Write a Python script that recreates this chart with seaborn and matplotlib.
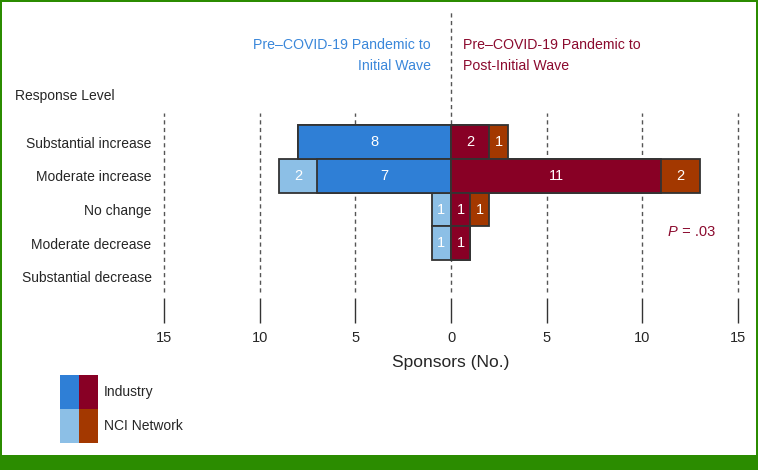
import matplotlib
matplotlib.use("Agg")
import matplotlib.pyplot as plt
from matplotlib.patches import Rectangle
import seaborn as sns
import pandas as pd
import numpy as np

# ---- data ----
levels = ["Substantial increase", "Moderate increase", "No change",
          "Moderate decrease", "Substantial decrease"]
initial_industry = [8, 7, 0, 0, 0]
initial_nci = [0, 2, 1, 1, 0]
post_industry = [2, 11, 1, 1, 0]
post_nci = [1, 2, 1, 0, 0]
tick_values = [-15, -10, -5, 0, 5, 10, 15]
tick_labels = ["15", "10", "5", "0", "5", "10", "15"]

C_IND_L = "#2F7FD6"
C_NCI_L = "#8CBFE6"
C_IND_R = "#880025"
C_NCI_R = "#A33800"
EDGE = "#333333"
GREEN = "#2B8C00"

sns.set_theme(style="white")
plt.rcParams["font.family"] = ["Liberation Sans", "DejaVu Sans"]

W, H = 758, 470
fig = plt.figure(figsize=(W / 100, H / 100), dpi=100)
ax_left, ax_right, ax_top, ax_bottom = 164, 738, 12, 298
ax = fig.add_axes([ax_left / W, 1 - ax_bottom / H,
                   (ax_right - ax_left) / W, (ax_bottom - ax_top) / H])

df = pd.DataFrame({
    "level": levels,
    "li": [-v for v in initial_industry],
    "ln": [-v for v in initial_nci],
    "ri": post_industry,
    "rn": post_nci,
})
df["lt"] = df["li"] + df["ln"]
df["rt"] = df["ri"] + df["rn"]


def draw(col, color):
    sub = df[df[col] != 0]
    sns.barplot(data=sub, x=col, y="level", order=levels, orient="h",
                color=color, saturation=1, width=1.0, edgecolor=EDGE,
                linewidth=1.3, ax=ax, errorbar=None)


# outer totals first, industry segment drawn on top
draw("lt", C_NCI_L)
draw("li", C_IND_L)
draw("rt", C_NCI_R)
draw("ri", C_IND_R)

# value labels
for i, lvl in enumerate(levels):
    segs = [
        (0, -initial_industry[i]),
        (-initial_industry[i], -initial_industry[i] - initial_nci[i]),
        (0, post_industry[i]),
        (post_industry[i], post_industry[i] + post_nci[i]),
    ]
    for a, b in segs:
        if a != b:
            ax.text((a + b) / 2, i, f"{abs(b - a)}", color="white",
                    ha="center", va="center", fontsize=10.5)

ax.set_xlim(-15, 15)
px = (ax_bottom - ax_top)
row = 33.75
ytop = 0 - (142 - ax_top) / row
ybot = 4 + (ax_bottom - 277) / row
ax.set_ylim(ybot, ytop)


def frac(p):
    return (ax_bottom - p) / px


for v in tick_values:
    top = 12 if v == 0 else 113
    ax.axvline(v, ymin=frac(292), ymax=frac(top), color="#555555",
               linestyle=(0, (3, 2.5)), linewidth=1.0, zorder=0,
               clip_on=False)

for s in ax.spines.values():
    s.set_visible(False)

ax.set_xticks(tick_values)
ax.set_xticklabels(tick_labels, fontsize=10.5)
ax.tick_params(axis="x", bottom=True, direction="out", length=18,
               width=1.0, color="#333333", pad=6)
ax.set_yticks(range(len(levels)))
ax.set_yticklabels(levels, fontsize=10)
ax.tick_params(axis="y", left=False, length=0, pad=9)
ax.set_xlabel("")
ax.set_ylabel("")

fig.text(451 / W, 1 - 362 / H, "Sponsors (No.)", ha="center", va="center",
         fontsize=12.5)
fig.text(15 / W, 1 - 96 / H, "Response Level", ha="left", va="center",
         fontsize=10)
fig.text(431 / W, 1 - 55.5 / H, "Pre–COVID-19 Pandemic to\nInitial Wave",
         ha="right", va="center", fontsize=10.2, color="#3A87DA",
         linespacing=1.65, multialignment="right")
fig.text(463 / W, 1 - 55.5 / H, "Pre–COVID-19 Pandemic to\nPost-Initial Wave",
         ha="left", va="center", fontsize=10.2, color="#8B0A2E",
         linespacing=1.65, multialignment="left")
fig.text(668 / W, 1 - 232 / H, "P", ha="left", va="center",
         fontsize=10.5, color="#8B0A2E", style="italic")
fig.text(678 / W, 1 - 232 / H, " = .03", ha="left", va="center",
         fontsize=10.5, color="#8B0A2E")

# legend
def frect(x0, y0, x1, y1, color):
    fig.patches.append(Rectangle((x0 / W, 1 - y1 / H), (x1 - x0) / W,
                                 (y1 - y0) / H, transform=fig.transFigure,
                                 facecolor=color, edgecolor="none"))


frect(60, 375, 79, 409, C_IND_L)
frect(79, 375, 98, 409, C_IND_R)
frect(60, 409, 79, 443, C_NCI_L)
frect(79, 409, 98, 443, C_NCI_R)
fig.text(104 / W, 1 - 392 / H, "Industry", ha="left", va="center", fontsize=10)
fig.text(104 / W, 1 - 426 / H, "NCI Network", ha="left", va="center",
         fontsize=10)

# green frame
frect(0, 455, W, H, GREEN)
frect(0, 0, 2, H, GREEN)
frect(W - 2, 0, W, H, GREEN)
frect(0, 0, W, 2, GREEN)

fig.savefig("out.png", dpi=100)
